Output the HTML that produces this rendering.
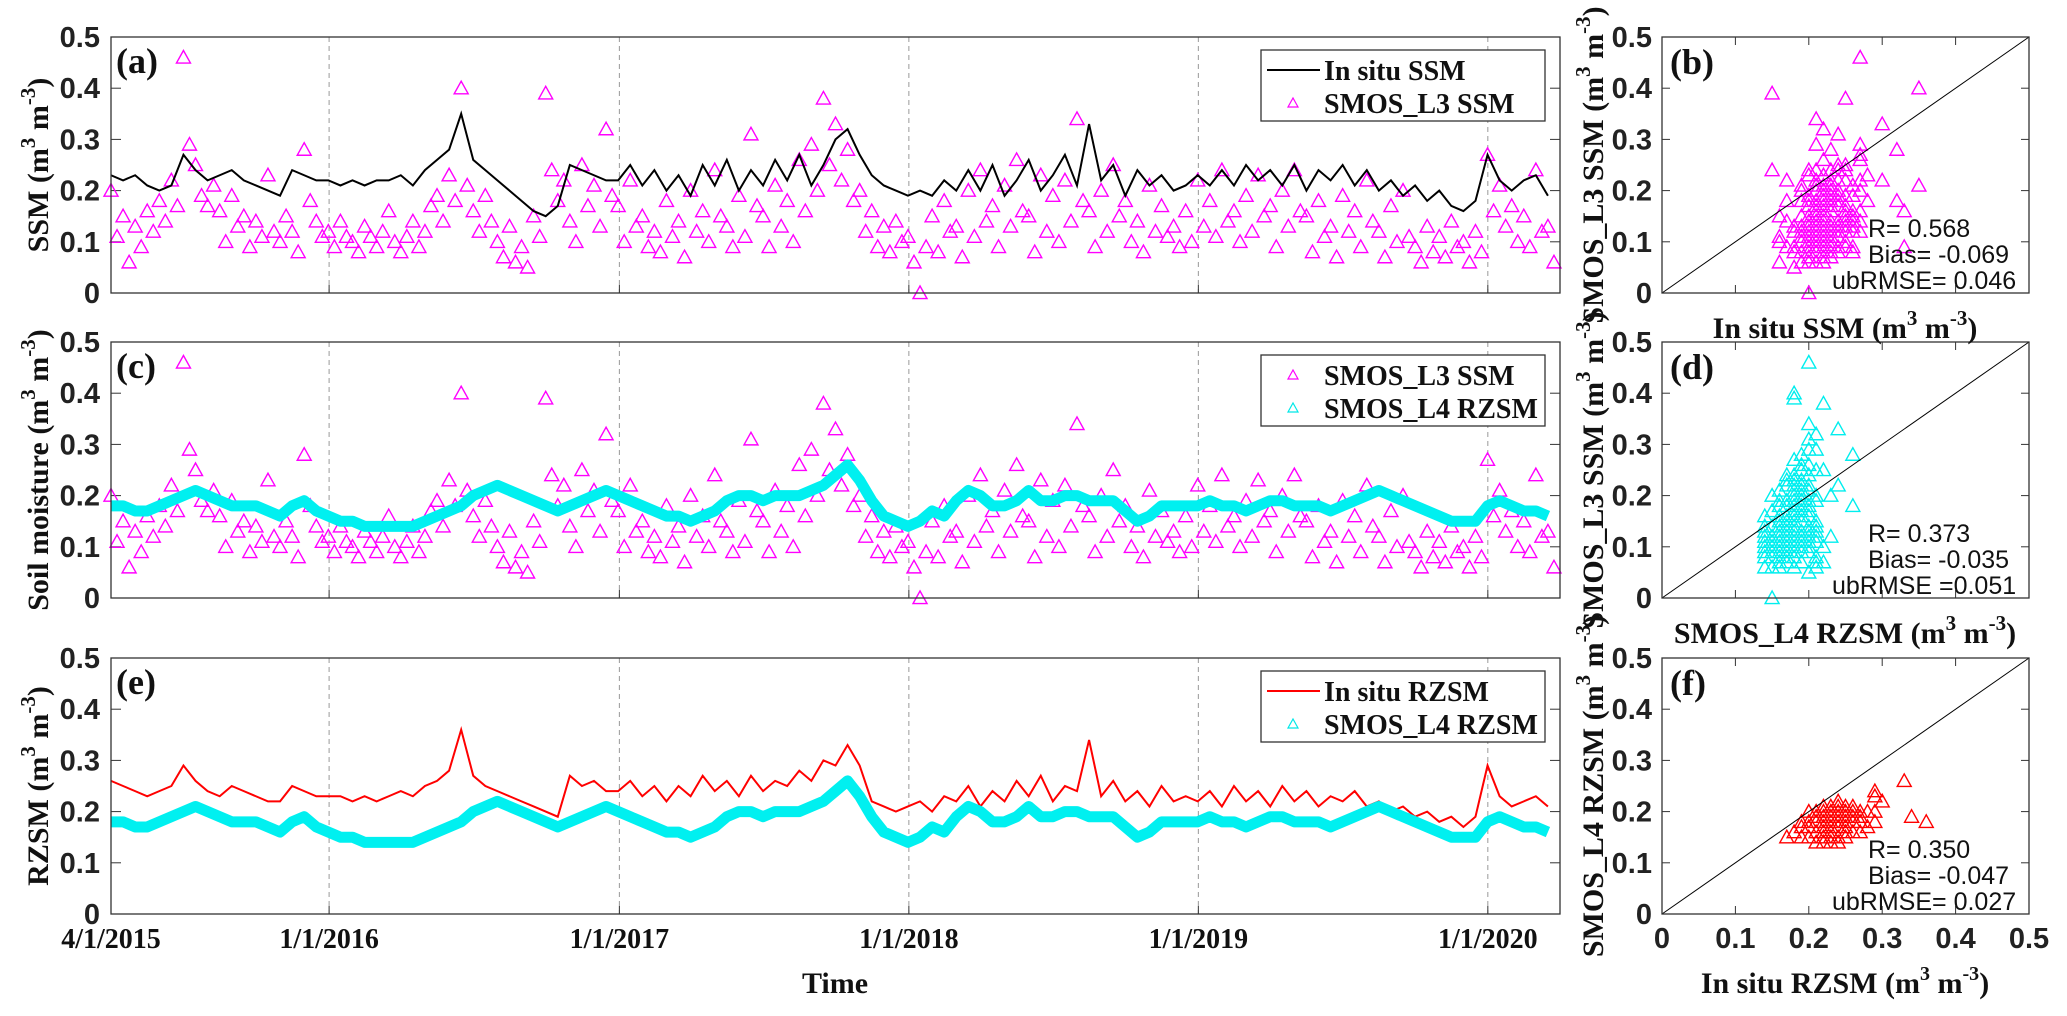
<!DOCTYPE html>
<html><head><meta charset="utf-8"><style>
html,body{margin:0;padding:0;background:#fff;}
svg{display:block;}
.tk{font-family:"Liberation Sans",sans-serif;font-weight:bold;font-size:29px;fill:#222;}
.lab{font-family:"Liberation Serif",serif;font-weight:bold;font-size:30px;fill:#111;}
.pl{font-family:"Liberation Serif",serif;font-weight:bold;font-size:36px;fill:#111;}
.lg{font-family:"Liberation Serif",serif;font-weight:bold;font-size:28px;fill:#111;}
.st{font-family:"Liberation Sans",sans-serif;font-size:25px;fill:#111;}
</style></head><body>
<svg id="fig" width="2067" height="1016" viewBox="0 0 2067 1016" xmlns="http://www.w3.org/2000/svg">
<rect width="2067" height="1016" fill="#fff"/>
<g id="marks"></g>
<text class="lab" transform="translate(48,165) rotate(-90)" text-anchor="middle">SSM (m<tspan dy="-13" font-size="21">3</tspan><tspan dy="13"> m</tspan><tspan dy="-13" font-size="21">-3</tspan><tspan dy="13">)</tspan></text>
<text class="lab" transform="translate(48,470) rotate(-90)" text-anchor="middle">Soil moisture (m<tspan dy="-13" font-size="21">3</tspan><tspan dy="13"> m</tspan><tspan dy="-13" font-size="21">-3</tspan><tspan dy="13">)</tspan></text>
<text class="lab" transform="translate(48,786) rotate(-90)" text-anchor="middle">RZSM (m<tspan dy="-13" font-size="21">3</tspan><tspan dy="13"> m</tspan><tspan dy="-13" font-size="21">-3</tspan><tspan dy="13">)</tspan></text>
<text class="lab" x="835" y="993" text-anchor="middle" font-size="26">Time</text>
<text class="lab" transform="translate(1603,165) rotate(-90)" text-anchor="middle">SMOS_L3 SSM (m<tspan dy="-13" font-size="21">3</tspan><tspan dy="13"> m</tspan><tspan dy="-13" font-size="21">-3</tspan><tspan dy="13">)</tspan></text>
<text class="lab" transform="translate(1603,470) rotate(-90)" text-anchor="middle">SMOS_L3 SSM (m<tspan dy="-13" font-size="21">3</tspan><tspan dy="13"> m</tspan><tspan dy="-13" font-size="21">-3</tspan><tspan dy="13">)</tspan></text>
<text class="lab" transform="translate(1603,786) rotate(-90)" text-anchor="middle">SMOS_L4 RZSM (m<tspan dy="-13" font-size="21">3</tspan><tspan dy="13"> m</tspan><tspan dy="-13" font-size="21">-3</tspan><tspan dy="13">)</tspan></text>
<text class="lab" x="1845" y="338" text-anchor="middle">In situ SSM (m<tspan dy="-13" font-size="21">3</tspan><tspan dy="13"> m</tspan><tspan dy="-13" font-size="21">-3</tspan><tspan dy="13">)</tspan></text>
<text class="lab" x="1845" y="643" text-anchor="middle">SMOS_L4 RZSM (m<tspan dy="-13" font-size="21">3</tspan><tspan dy="13"> m</tspan><tspan dy="-13" font-size="21">-3</tspan><tspan dy="13">)</tspan></text>
<text class="lab" x="1845" y="993" text-anchor="middle" font-size="28">In situ RZSM (m<tspan dy="-13" font-size="20">3</tspan><tspan dy="13"> m</tspan><tspan dy="-13" font-size="20">-3</tspan><tspan dy="13">)</tspan></text>
</svg>
<script>
const insituSSM=[0.23,0.22,0.23,0.21,0.20,0.21,0.27,0.24,0.22,0.23,0.24,0.22,0.21,0.20,0.19,0.24,0.23,0.22,
0.22,0.21,0.22,0.21,0.22,0.22,0.23,0.21,0.24,0.26,0.28,0.35,0.26,0.24,0.22,0.20,0.18,0.16,0.15,0.17,0.25,0.24,0.23,0.22,
0.22,0.25,0.21,0.24,0.20,0.23,0.19,0.25,0.21,0.26,0.20,0.24,0.21,0.26,0.22,0.27,0.21,0.25,0.30,0.32,0.27,0.23,0.21,0.20,
0.19,0.20,0.19,0.22,0.20,0.24,0.20,0.25,0.19,0.22,0.26,0.20,0.23,0.27,0.21,0.33,0.22,0.25,0.19,0.24,0.21,0.23,0.20,0.21,
0.23,0.21,0.24,0.21,0.25,0.22,0.24,0.21,0.25,0.20,0.24,0.22,0.25,0.21,0.24,0.20,0.22,0.19,0.21,0.18,0.20,0.17,0.16,0.18,
0.27,0.22,0.20,0.22,0.23,0.19];
const insituRZSM=[0.26,0.25,0.24,0.23,0.24,0.25,0.29,0.26,0.24,0.23,0.25,0.24,0.23,0.22,0.22,0.25,0.24,0.23,
0.23,0.23,0.22,0.23,0.22,0.23,0.24,0.23,0.25,0.26,0.28,0.36,0.27,0.25,0.24,0.23,0.22,0.21,0.20,0.19,0.27,0.25,0.26,0.24,
0.24,0.26,0.23,0.25,0.22,0.25,0.23,0.27,0.24,0.26,0.23,0.27,0.24,0.26,0.25,0.28,0.26,0.30,0.29,0.33,0.29,0.22,0.21,0.20,
0.21,0.22,0.20,0.23,0.22,0.25,0.21,0.24,0.22,0.26,0.23,0.27,0.22,0.25,0.24,0.34,0.23,0.26,0.22,0.24,0.21,0.25,0.22,0.23,
0.22,0.24,0.21,0.25,0.22,0.24,0.21,0.25,0.22,0.24,0.21,0.23,0.22,0.24,0.21,0.22,0.20,0.21,0.19,0.20,0.18,0.19,0.17,0.19,
0.29,0.23,0.21,0.22,0.23,0.21];
const smosL4=[0.18,0.18,0.17,0.17,0.18,0.19,0.20,0.21,0.20,0.19,0.18,0.18,0.18,0.17,0.16,0.18,0.19,0.17,
0.16,0.15,0.15,0.14,0.14,0.14,0.14,0.14,0.15,0.16,0.17,0.18,0.20,0.21,0.22,0.21,0.20,0.19,0.18,0.17,0.18,0.19,0.20,0.21,
0.20,0.19,0.18,0.17,0.16,0.16,0.15,0.16,0.17,0.19,0.20,0.20,0.19,0.20,0.20,0.20,0.21,0.22,0.24,0.26,0.23,0.19,0.16,0.15,
0.14,0.15,0.17,0.16,0.19,0.21,0.20,0.18,0.18,0.19,0.21,0.19,0.19,0.20,0.20,0.19,0.19,0.19,0.17,0.15,0.16,0.18,0.18,0.18,
0.18,0.19,0.18,0.18,0.17,0.18,0.19,0.19,0.18,0.18,0.18,0.17,0.18,0.19,0.20,0.21,0.20,0.19,0.18,0.17,0.16,0.15,0.15,0.15,
0.18,0.19,0.18,0.17,0.17,0.16];
const smosL3=[.20,.11,.15,.06,.13,.09,.16,.12,.18,.14,.22,.17,.46,.29,.25,.19,.17,.21,.16,.10,.19,.13,.15,.09,.14,.11,.23,.12,.10,.15,.12,.08,.28,.18,.14,.11,
.12,.09,.14,.11,.10,.08,.13,.11,.09,.12,.16,.10,.08,.11,.14,.09,.12,.17,.19,.14,.23,.18,.40,.21,.16,.12,.19,.14,.10,.07,.13,.06,.09,.05,.15,.11,.39,.24,.18,.22,.14,.10,.25,.17,.21,.13,.32,.19,
.17,.10,.22,.13,.15,.09,.12,.08,.18,.11,.14,.07,.20,.12,.16,.10,.24,.15,.13,.09,.19,.11,.31,.17,.15,.09,.21,.13,.18,.10,.26,.16,.29,.20,.38,.25,.33,.22,.28,.18,.20,.12,.16,.09,.13,.08,.14,.10,
.11,.06,.00,.09,.15,.08,.18,.12,.13,.07,.20,.11,.24,.14,.17,.09,.21,.13,.26,.16,.15,.08,.23,.12,.19,.10,.22,.14,.34,.18,.16,.09,.20,.12,.25,.15,.18,.10,.14,.08,.21,.12,.17,.11,.13,.09,.16,.10,
.22,.13,.18,.11,.24,.14,.16,.10,.19,.12,.23,.15,.17,.09,.20,.13,.24,.16,.15,.08,.18,.11,.13,.07,.19,.12,.16,.09,.22,.14,.12,.07,.17,.10,.20,.11,.09,.06,.13,.08,.11,.07,.14,.09,.10,.06,.12,.08,
.27,.16,.21,.13,.17,.10,.15,.09,.24,.12,.13,.06];
const yTicks=["0","0.1","0.2","0.3","0.4","0.5"];
const xDateLabels=["4/1/2015","1/1/2016","1/1/2017","1/1/2018","1/1/2019","1/1/2020"];
const xDateDays=[0,275,641,1006,1371,1736];
const totalDays=1827;
const statsB=["R= 0.568","Bias= -0.069","ubRMSE= 0.046"];
const statsD=["R= 0.373","Bias= -0.035","ubRMSE =0.051"];
const statsF=["R= 0.350","Bias= -0.047","ubRMSE= 0.027"];

const NS="http://www.w3.org/2000/svg";
const G=document.getElementById('marks');
function mk(tag,attrs,parent){const e=document.createElementNS(NS,tag);for(const k in attrs)e.setAttribute(k,attrs[k]);(parent||G).appendChild(e);return e;}
const LX0=111,LX1=1560,RX0=1662,RX1=2029,H=256;
const tops=[37,342,658];
function yS(top,v){return top+H*(1-v/0.5);}
function xT(i,n){return LX0+(i/n)*(LX1-LX0);}
function xD(d){return LX0+d/totalDays*(LX1-LX0);}
function xR(v){return RX0+(RX1-RX0)*v/0.5;}
function tri(x,y,c,s){s=s||7;return 'M'+(x-s)+','+(y+s*0.8)+'L'+(x+s)+','+(y+s*0.8)+'L'+x+','+(y-s*1.0)+'Z';}

const panelNames=['panel-a','panel-c','panel-e'];
tops.forEach((t,pi)=>{
  const g=mk('g',{});
  
  
  xDateDays.forEach((d,k)=>{ if(k>0){const l=mk('line',{x1:xD(d),x2:xD(d),y1:t,y2:t+H,stroke:'#999','stroke-width':1,'stroke-dasharray':'5,4'},g);
    }});
  yTicks.forEach((lab,k)=>{const y=yS(t,k*0.1);
    mk('line',{x1:LX0,x2:LX0+10,y1:y,y2:y,stroke:'#333'},g);mk('line',{x1:LX1-10,x2:LX1,y1:y,y2:y,stroke:'#333'},g);
    const tx=mk('text',{x:100,y:y+10,'text-anchor':'end',class:'tk'},g);tx.textContent=lab;
    });
});
xDateDays.forEach((d,k)=>{const tx=mk('text',{x:xD(d),y:948,'text-anchor':'middle',class:'lg'});tx.textContent=xDateLabels[k];
  
  tops.forEach(t=>{mk('line',{x1:xD(d),x2:xD(d),y1:t+H-8,y2:t+H,stroke:'#333'});});});

let p=''; smosL3.forEach((v,j)=>{p+=tri(xT(j/2,120),yS(tops[0],v));});
let e=mk('path',{d:p,fill:'none',stroke:'#ff00ff','stroke-width':1.4});

e=mk('polyline',{points:insituSSM.map((v,i)=>xT(i,120)+','+yS(tops[0],v)).join(' '),fill:'none',stroke:'#000','stroke-width':2});

p=''; smosL3.forEach((v,j)=>{p+=tri(xT(j/2,120),yS(tops[1],v));});
e=mk('path',{d:p,fill:'none',stroke:'#ff00ff','stroke-width':1.4});

e=mk('polyline',{points:smosL4.map((v,i)=>xT(i,120)+','+yS(tops[1],v)).join(' '),fill:'none',stroke:'#00f0f0','stroke-width':11,'stroke-linejoin':'round'});

e=mk('polyline',{points:insituRZSM.map((v,i)=>xT(i,120)+','+yS(tops[2],v)).join(' '),fill:'none',stroke:'#ff0000','stroke-width':2});

e=mk('polyline',{points:smosL4.map((v,i)=>xT(i,120)+','+yS(tops[2],v)).join(' '),fill:'none',stroke:'#00f0f0','stroke-width':11,'stroke-linejoin':'round'});


tops.forEach(t=>{mk('rect',{x:LX0,y:t,width:LX1-LX0,height:H,fill:'none',stroke:'#333','stroke-width':1.3});});

const legs=[[['line','#000','In situ SSM'],['tri','#ff00ff','SMOS_L3 SSM']],[['tri','#ff00ff','SMOS_L3 SSM'],['tri','#00e8e8','SMOS_L4 RZSM']],[['line','#ff0000','In situ RZSM'],['tri','#00e8e8','SMOS_L4 RZSM']]];
legs.forEach((lg,pi)=>{const t=tops[pi]+13;
  const g=mk('g',{});
  mk('rect',{x:1261,y:t,width:284,height:71,fill:'#fff',stroke:'#333','stroke-width':1.3},g);
  lg.forEach((it,k)=>{const cy=t+20+k*33;
    if(it[0]=='line')mk('line',{x1:1267,x2:1320,y1:cy,y2:cy,stroke:it[1],'stroke-width':2},g);
    else mk('path',{d:tri(1293,cy,0,5),fill:'none',stroke:it[1],'stroke-width':1.2},g);
    const tx=mk('text',{x:1324,y:cy+10,class:'lg'},g);tx.textContent=it[2];
    });
});
[['(a)',0],['(c)',1],['(e)',2]].forEach(a=>{const tx=mk('text',{x:116,y:tops[a[1]]+36,class:'pl'});tx.textContent=a[0];
  });

const sc=[
 {name:'b',col:'#ff00ff',xs:smosL3.map((v,j)=>insituSSM[Math.floor(j/2)]),ys:smosL3,stats:statsB},
 {name:'d',col:'#00eeee',xs:smosL3.map((v,j)=>smosL4[Math.floor(j/2)]),ys:smosL3,stats:statsD},
 {name:'f',col:'#ff0000',xs:insituRZSM,ys:smosL4,stats:statsF}];
sc.forEach((s,pi)=>{const t=tops[pi];
  const g=mk('g',{});
  yTicks.forEach((lab,k)=>{const y=yS(t,k*0.1),x=xR(k*0.1);
    mk('line',{x1:RX0,x2:RX0+8,y1:y,y2:y,stroke:'#333'},g);mk('line',{x1:RX1-8,x2:RX1,y1:y,y2:y,stroke:'#333'},g);
    mk('line',{x1:x,x2:x,y1:t+H-8,y2:t+H,stroke:'#333'},g);mk('line',{x1:x,x2:x,y1:t,y2:t+8,stroke:'#333'},g);
    const tx=mk('text',{x:1652,y:y+10,'text-anchor':'end',class:'tk'},g);tx.textContent=lab;
    
    if(pi==2){const tx2=mk('text',{x:x,y:948,'text-anchor':'middle',class:'tk'},g);tx2.textContent=lab;
      }
  });
  let pp='';s.ys.forEach((v,j)=>{pp+=tri(xR(s.xs[j]),yS(t,v));});
  const m=mk('path',{d:pp,fill:'none',stroke:s.col,'stroke-width':1.4},g);
  
  const l=mk('line',{x1:RX0,y1:t+H,x2:RX1,y2:t,stroke:'#000','stroke-width':1},g);
  
  mk('rect',{x:RX0,y:t,width:RX1-RX0,height:H,fill:'none',stroke:'#333','stroke-width':1.3},g);
  const pl=mk('text',{x:1670,y:t+37,class:'pl'},g);pl.textContent='('+s.name+')';
  
  const sx=[1868,1868,1832];
  s.stats.forEach((st,k)=>{const tx=mk('text',{x:sx[k],y:t+200+k*26,class:'st'},g);tx.textContent=st;
    });
});
</script>
</body></html>
